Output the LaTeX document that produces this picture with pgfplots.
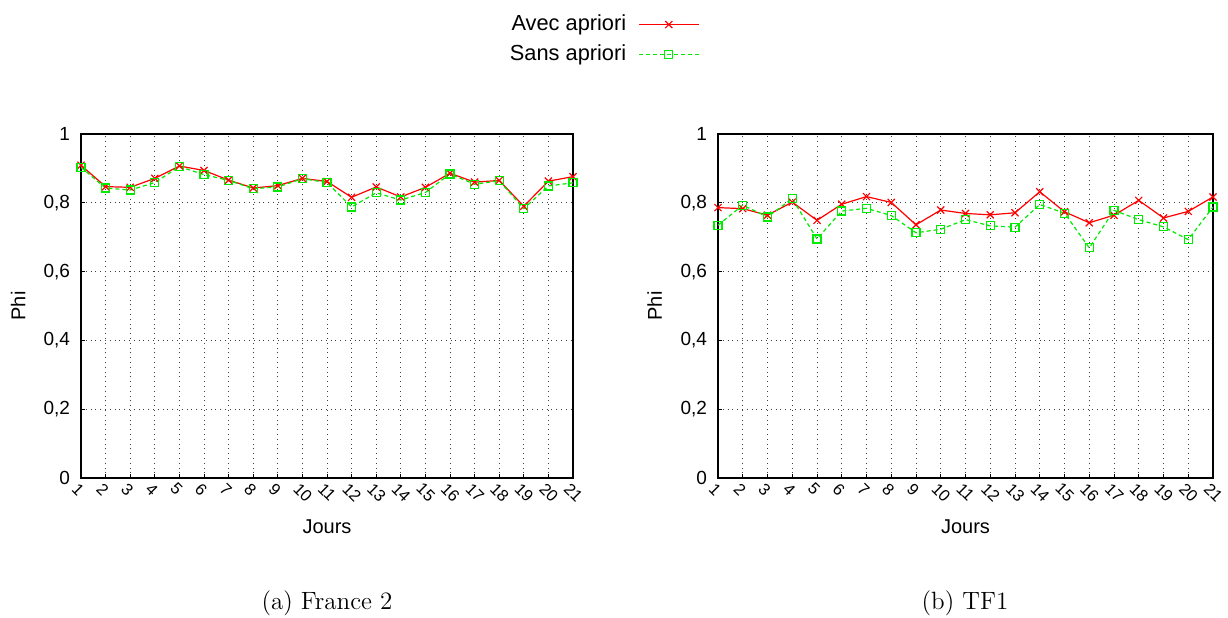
\documentclass[border=0pt]{standalone}
\usepackage{fontspec}
\usepackage{pgfplots}
\pgfplotsset{compat=1.18}
\newfontfamily\arial{Liberation Sans}
\definecolor{myred}{RGB}{255,0,0}
\definecolor{mygreen}{RGB}{0,235,0}
\pgfplotsset{
  myaxis/.style={
    scale only axis,
    width=246pt, height=172pt,
    xmin=1, xmax=21, ymin=0, ymax=1,
    xtick={1,...,21},
    xticklabels={1,2,3,4,5,6,7,8,9,10,11,12,13,14,15,16,17,18,19,20,21},
    ytick={0,0.2,0.4,0.6,0.8,1},
    yticklabels={0,{0,2},{0,4},{0,6},{0,8},1},
    tick pos=left,
    tick align=inside,
    major tick length=2pt,
    grid=major,
    grid style={black!75, dotted, line width=0.4pt},
    axis line style={line width=0.8pt},
    tick style={black, line width=0.5pt},
    font=\arial\fontsize{9.5}{11}\selectfont,
    every x tick label/.append style={rotate=-45, anchor=west, inner sep=0.5pt, xshift=0pt, yshift=-5pt, font=\arial\fontsize{8.2}{9}\selectfont},
    yticklabel style={xshift=-2pt},
    xlabel={Jours},
    ylabel={Phi},
    xlabel style={at={(axis description cs:0.5,0)}, anchor=center, yshift=-24.5pt},
    ylabel style={at={(axis description cs:-0.128,0.5)}, anchor=center, rotate=0},
    label style={font=\arial\fontsize{10}{12}\selectfont},
  },
  avec/.style={color=myred, line width=0.6pt, mark=x, mark size=2.5pt, mark options={solid, line width=0.6pt},
    legend image code/.code={\draw[myred, line width=0.6pt, mark=x, mark size=2.5pt, mark options={solid, line width=0.6pt}, mark repeat=2, mark phase=2] plot coordinates {(0pt,0pt)(15pt,0pt)(30pt,0pt)};}},
  sans/.style={color=mygreen, line width=0.6pt, dash pattern=on 2pt off 1.5pt, mark=square, mark size=2pt, mark options={solid, line width=0.6pt},
    legend image code/.code={\draw[mygreen, line width=0.6pt, dash pattern=on 2pt off 1.5pt, mark=square, mark size=2pt, mark options={solid, line width=0.6pt}, mark repeat=2, mark phase=2] plot coordinates {(0pt,0pt)(15pt,0pt)(30pt,0pt)};}},
}
\begin{document}
\begin{tikzpicture}
\path[use as bounding box] (0,0) rectangle (614pt,308.5pt);
\begin{axis}[myaxis, at={(40.5pt,69.5pt)}, anchor=south west,
  legend style={at={(axis description cs:1.27,1.37)}, anchor=north east, draw=none,
    cells={anchor=east}, row sep=1.5pt, column sep=4pt, font=\arial\fontsize{10.9}{13}\selectfont},
  legend plot pos=right]
\addplot[avec] coordinates {
(1,0.909) (2,0.847) (3,0.845) (4,0.871) (5,0.907) (6,0.894) (7,0.866)
(8,0.843) (9,0.850) (10,0.871) (11,0.862) (12,0.816) (13,0.846) (14,0.817)
(15,0.845) (16,0.886) (17,0.860) (18,0.865) (19,0.790) (20,0.863) (21,0.876)};
\addlegendentry{Avec apriori}
\addplot[sans] coordinates {
(1,0.903) (2,0.843) (3,0.837) (4,0.859) (5,0.905) (6,0.882) (7,0.865)
(8,0.841) (9,0.846) (10,0.870) (11,0.859) (12,0.788) (13,0.829) (14,0.808)
(15,0.830) (16,0.884) (17,0.854) (18,0.864) (19,0.783) (20,0.849) (21,0.858)};
\addlegendentry{Sans apriori}
\end{axis}
\begin{axis}[myaxis, at={(359pt,69.5pt)}, anchor=south west, width=247.5pt]
\addplot[avec] coordinates {
(1,0.786) (2,0.783) (3,0.764) (4,0.802) (5,0.749) (6,0.796) (7,0.818)
(8,0.801) (9,0.736) (10,0.779) (11,0.769) (12,0.765) (13,0.771) (14,0.832)
(15,0.774) (16,0.742) (17,0.764) (18,0.807) (19,0.756) (20,0.775) (21,0.817)};
\addplot[sans] coordinates {
(1,0.735) (2,0.793) (3,0.759) (4,0.812) (5,0.695) (6,0.776) (7,0.784)
(8,0.763) (9,0.713) (10,0.723) (11,0.751) (12,0.733) (13,0.729) (14,0.795)
(15,0.770) (16,0.669) (17,0.778) (18,0.751) (19,0.730) (20,0.693) (21,0.788)};
\end{axis}
\node[font=\fontsize{12.5}{15}\selectfont] at (163.5pt,7pt) {(a) France 2};
\node[font=\fontsize{12.5}{15}\selectfont] at (482.5pt,7pt) {(b) TF1};
\end{tikzpicture}
\end{document}
